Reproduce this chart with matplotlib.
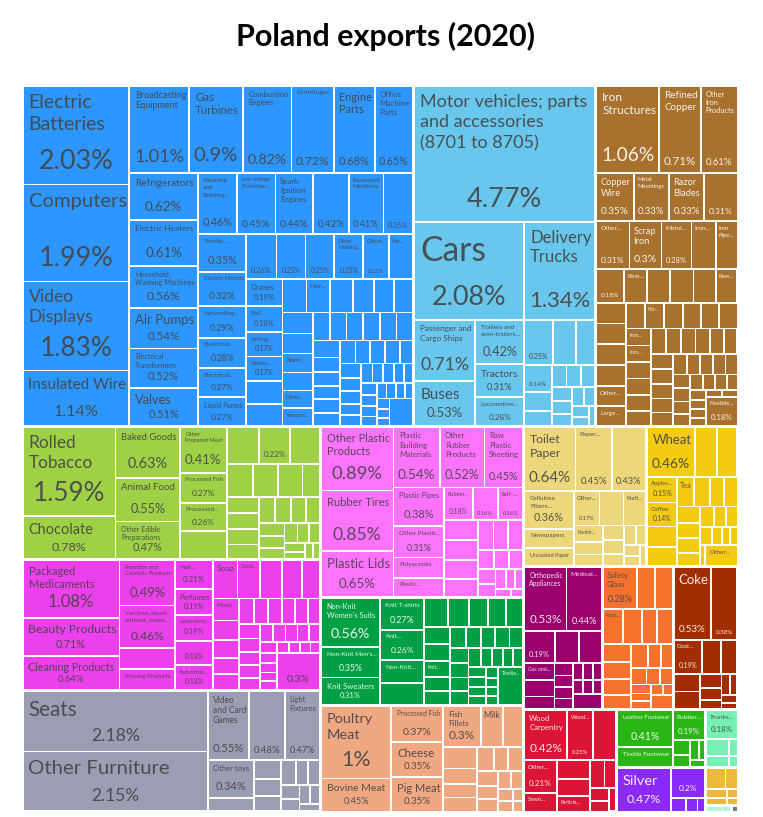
import matplotlib
matplotlib.use("Agg")
import matplotlib.pyplot as plt
from matplotlib.patches import Rectangle
from matplotlib.font_manager import FontProperties

# ---------------- data: share of Poland's exports in 2020 (%) ----------------
machines_labels = [
    "Electric Batteries", "Computers", "Video Displays", "Insulated Wire",
    "Broadcasting Equipment", "Gas Turbines", "Combustion Engines", "Centrifuges", "Engine Parts",
    "Office Machine Parts",
    "Refrigerators", "Electric Heaters", "Household Washing Machines", "Air Pumps",
    "Electrical Transformers", "Valves",
    "Washing and Bottling...", "Low-voltage Protection...", "Spark-Ignition Engines", "",
    "Excavation Machinery", "",
    "Textile...", "Electric Motors", "Harvesting...", "Electrical...", "Electrical...", "Liquid Pumps",
    "", "", "", "Other Heating...", "Other...", "Air...",
    "Cranes", "Ball...", "Lifting...", "Video...", None, None,
    None, "Hair...", None, None, None, None,
    None, None, "Blank...", None, "Other...", "Vacuum...",
] + [None] * 39
machines_values = [
    2.03, 1.99, 1.83, 1.14,
    1.01, 0.9, 0.82, 0.72, 0.68, 0.65,
    0.62, 0.61, 0.56, 0.54, 0.52, 0.51,
    0.46, 0.45, 0.44, 0.42, 0.41, 0.35,
    0.35, 0.32, 0.29, 0.28, 0.27, 0.27,
    0.26, 0.25, 0.25, 0.25, 0.22, 0.21,
    0.19, 0.18, 0.17, 0.17, 0.16, 0.155,
    0.155, 0.15, 0.15, 0.135, 0.13, 0.125,
    0.124, 0.118, 0.112, 0.106, 0.105, 0.105,
    0.09, 0.09, 0.09, 0.09, 0.09, 0.09,
    0.088, 0.075, 0.072, 0.07, 0.07, 0.069,
    0.069, 0.065, 0.065, 0.065, 0.06, 0.058,
    0.055, 0.05, 0.046, 0.045, 0.044, 0.042,
    0.04, 0.038, 0.037, 0.035, 0.034, 0.033,
    0.03, 0.028, 0.027, 0.026, 0.025, 0.024,
    0.022, 0.02, 0.126,
]

transport_labels = [
    "Motor vehicles; parts and accessories (8701 to 8705)", "Cars", "Delivery Trucks",
    "Passenger and Cargo Ships", "Buses", "Trailers and semi-trailers...", "Tractors",
    "Locomotive...", "", None, None, "",
] + [None] * 13
transport_values = [4.77, 2.08, 1.34, 0.71, 0.53, 0.42, 0.31, 0.28, 0.25, 0.2, 0.165, 0.14,
                    0.1, 0.08, 0.063, 0.06, 0.06, 0.055, 0.05, 0.048, 0.045, 0.04, 0.035,
                    0.03, 0.025]

metals_labels = [
    "Iron Structures", "Refined Copper", "Other Iron Products", "Copper Wire", "Metal Mountings",
    "Razor Blades", "", "Other...", "Scrap Iron", "Metal...", "Iron...", "Iron Pipe...",
    "", "Raw...", None, None, None, "Raw...",
    None, None, None, None, "Other...", "Large...",
    None, "Hot-...", None, None, None, None,
    "Iron...", "Iron...", None, None, None, None,
] + [None] * 30 + ["Flexible..."]
metals_values = [
    1.06, 0.71, 0.61, 0.35, 0.33, 0.33, 0.31, 0.31, 0.3, 0.28, 0.23, 0.2,
    0.18, 0.15, 0.15, 0.15, 0.145, 0.14,
    0.12, 0.12, 0.12, 0.12, 0.118, 0.115,
    0.095, 0.093, 0.093, 0.092, 0.09, 0.09,
    0.082, 0.08, 0.08, 0.078, 0.077, 0.075,
    0.074, 0.072, 0.07, 0.07, 0.068, 0.066, 0.065, 0.064, 0.062, 0.06,
    0.058, 0.056, 0.054, 0.052, 0.05, 0.048, 0.046, 0.044, 0.042, 0.04,
    0.038, 0.036, 0.034, 0.032, 0.03, 0.028, 0.026, 0.024, 0.022, 0.02,
    0.18,
]

food_labels = [
    "Rolled Tobacco", "Chocolate", "Baked Goods", "Animal Food", "Other Edible Preparations",
    "Other Prepared Meat", "Processed Fish", "Processed...", None, None, "", None, None, None,
    None, None, None, None, None, None, None, "Hard...",
] + [None] * 12
food_values = [1.59, 0.78, 0.63, 0.55, 0.47, 0.41, 0.27, 0.26, 0.25, 0.23, 0.22, 0.21, 0.17,
               0.16, 0.155, 0.11, 0.1, 0.1, 0.095, 0.09, 0.085, 0.08, 0.075, 0.07, 0.065, 0.06,
               0.055, 0.05, 0.045, 0.04, 0.035, 0.03, 0.025, 0.02]

chem_labels = [
    "Packaged Medicaments", "Beauty Products", "Cleaning Products",
    "Reaction and Catalytic Products", "Vaccines, blood, antisera, toxins...", None,
    "Shaving Products", "Hair...", "Perfumes", "Laboratory...", "", "Industrial...", "Soap",
    "Dental...", "", "", "", "Mixed...", None, None, None,
] + [None] * 26 + [""]
chem_values = [1.08, 0.71, 0.64, 0.49, 0.46, 0.23, 0.22, 0.21, 0.19, 0.19, 0.18, 0.18, 0.18,
               0.17, 0.16, 0.15, 0.13, 0.11, 0.1, 0.09, 0.08,
               0.078, 0.075, 0.07, 0.068, 0.065, 0.062, 0.06, 0.058, 0.055, 0.052, 0.05, 0.048,
               0.046, 0.044, 0.042, 0.04, 0.038, 0.036, 0.034, 0.032, 0.03, 0.028, 0.026, 0.024,
               0.022, 0.02,
               0.3]

misc_labels = ["Seats", "Other Furniture", "Video and Card Games", "", "Light Fixtures",
               "Other toys", ""] + [None] * 11
misc_values = [2.18, 2.15, 0.55, 0.48, 0.47, 0.34, 0.12, 0.1, 0.09, 0.08, 0.07, 0.06, 0.055,
               0.05, 0.045, 0.04, 0.035, 0.03]

plastic_labels = [
    "Other Plastic Products", "Rubber Tires", "Plastic Lids", "Plastic Building Materials",
    "Other Rubber Products", "Raw Plastic Sheeting", "Plastic Pipes", "Other Plastic...",
    "Polyacetals", "Plastic...", "Rubber...", "", "Self-...",
] + [None] * 17
plastic_values = [0.89, 0.85, 0.65, 0.54, 0.52, 0.45, 0.38, 0.31, 0.2, 0.19, 0.18, 0.16, 0.16,
                  0.13, 0.13, 0.12, 0.12, 0.09, 0.085, 0.085, 0.06, 0.055, 0.05, 0.05, 0.045,
                  0.04, 0.035, 0.03, 0.025, 0.02]

textile_labels = [
    "Non-Knit Women's Suits", "Non-Knit Men's...", "Knit Sweaters", "Knit T-shirts", "Knit...",
    "Non-Knit...", None, None, None, None, None, None, None, None, "Knit...",
] + [None] * 24 + ["Textile..."]
textile_values = [0.56, 0.35, 0.31, 0.27, 0.26, 0.2, 0.185, 0.13, 0.12, 0.105, 0.1, 0.095,
                  0.085, 0.085, 0.08, 0.07, 0.065, 0.065, 0.062, 0.06, 0.058, 0.056, 0.055,
                  0.052, 0.05, 0.048, 0.045, 0.042, 0.04, 0.038, 0.036, 0.034, 0.032, 0.03,
                  0.028, 0.026, 0.024, 0.022, 0.02, 0.18]

animal_labels = ["Poultry Meat", "Bovine Meat", "Processed Fish", "Cheese", "Pig Meat",
                 "Fish Fillets", "Milk"] + [None] * 17
animal_values = [1.0, 0.45, 0.37, 0.35, 0.35, 0.3, 0.18, 0.16, 0.14, 0.1, 0.09, 0.09, 0.08,
                 0.07, 0.07, 0.06, 0.055, 0.05, 0.045, 0.04, 0.035, 0.03, 0.025, 0.02]

paper_labels = ["Toilet Paper", "Paper...", "", "Cellulose Fibers...", "Newspapers",
                "Uncoated Paper", "Other...", None, "Kraft...", "Kaolin..."] + [None] * 10
paper_values = [0.64, 0.45, 0.43, 0.36, 0.19, 0.17, 0.17, 0.16, 0.15, 0.095, 0.07, 0.065, 0.06,
                0.055, 0.05, 0.045, 0.04, 0.035, 0.03, 0.025]

veg_labels = ["Wheat", None, "", "Apples...", "Coffee", None, None, "Tea"] + [None] * 15 + ["Other..."]
veg_values = [0.46, 0.21, 0.2, 0.15, 0.14, 0.12, 0.11, 0.1, 0.09, 0.08, 0.08, 0.075, 0.07, 0.065,
              0.06, 0.055, 0.05, 0.045, 0.04, 0.035, 0.03, 0.025, 0.02, 0.13]

instr_labels = ["Orthopedic Appliances", "Medical...", "", None, None, "Gas and..."] + [None] * 13
instr_values = [0.53, 0.44, 0.19, 0.15, 0.14, 0.1, 0.1, 0.075, 0.045, 0.042, 0.04, 0.038, 0.035,
                0.032, 0.03, 0.028, 0.026, 0.024, 0.085]

stone_labels = ["Safety Glass", None, None, "Rock..."] + [None] * 19
stone_values = [0.28, 0.15, 0.14, 0.14, 0.13, 0.105, 0.105, 0.1, 0.095, 0.09, 0.08, 0.08, 0.06,
                0.055, 0.05, 0.045, 0.04, 0.035, 0.03, 0.03, 0.025, 0.02, 0.06]

mineral_labels = ["Coke", "", "Coal..."] + [None] * 11
mineral_values = [0.53, 0.38, 0.19, 0.13, 0.11, 0.09, 0.09, 0.06, 0.05, 0.04, 0.035, 0.03,
                  0.025, 0.02]

wood_labels = ["Wood Carpentry", "Wood...", None, "Other...", "Sawn...", None, None,
               "Particle..."] + [None] * 5
wood_values = [0.42, 0.25, 0.22, 0.21, 0.12, 0.12, 0.11, 0.1, 0.08, 0.06, 0.05, 0.04, 0.03]

footwear_labels = ["Leather Footwear", "Textile Footwear", "Rubber...", None, None, None, None, None]
footwear_values = [0.41, 0.22, 0.19, 0.05, 0.04, 0.035, 0.025, 0.02]

precious_labels = ["Silver", "", None, None, None]
precious_values = [0.47, 0.2, 0.04, 0.03, 0.02]

hides_labels = ["Trunks...", None, None, None, None]
hides_values = [0.18, 0.08, 0.05, 0.03, 0.02]

oils_labels = [None] * 6
oils_values = [0.08, 0.05, 0.04, 0.03, 0.02, 0.015]

arts_labels = [None, None]
arts_values = [0.02, 0.01]

weapons_labels = [None]
weapons_values = [0.008]

DARK = "#444444"
LIGHT = "#ffffff"
sectors = [
    ("Machines", "#2e97ff", DARK, machines_labels, machines_values),
    ("Transportation", "#69c6ec", DARK, transport_labels, transport_values),
    ("Metals", "#a8722e", LIGHT, metals_labels, metals_values),
    ("Foodstuffs", "#9fd147", DARK, food_labels, food_values),
    ("Chemical Products", "#ec40ec", DARK, chem_labels, chem_values),
    ("Miscellaneous", "#9b9eb3", DARK, misc_labels, misc_values),
    ("Plastics and Rubbers", "#fe73fe", DARK, plastic_labels, plastic_values),
    ("Textiles", "#02a044", LIGHT, textile_labels, textile_values),
    ("Animal Products", "#f0a883", DARK, animal_labels, animal_values),
    ("Paper Goods", "#ecd87b", DARK, paper_labels, paper_values),
    ("Vegetable Products", "#f4cb13", DARK, veg_labels, veg_values),
    ("Instruments", "#9a006e", LIGHT, instr_labels, instr_values),
    ("Stone And Glass", "#f4722e", DARK, stone_labels, stone_values),
    ("Mineral Products", "#a22e00", LIGHT, mineral_labels, mineral_values),
    ("Wood Products", "#dc1435", LIGHT, wood_labels, wood_values),
    ("Footwear and Headwear", "#2ab614", LIGHT, footwear_labels, footwear_values),
    ("Precious Metals", "#8b2bfa", LIGHT, precious_labels, precious_values),
    ("Animal Hides", "#76f0b3", DARK, hides_labels, hides_values),
    ("Animal and Vegetable Bi-Products", "#ecb93c", DARK, oils_labels, oils_values),
    ("Arts and Antiques", "#b8f1dc", DARK, arts_labels, arts_values),
    ("Weapons", "#7d7194", DARK, weapons_labels, weapons_values),
]

FONT = "Lato"
W, H = 763, 817
X0, Y0, X1, Y1 = 22, 85, 738, 812
PHI = (1 + 5 ** 0.5) / 2


def squarify(values, x0, y0, x1, y1, ratio=PHI):
    # same row building as d3.treemapSquarify
    rects = [None] * len(values)
    total = float(sum(values))
    n = len(values)
    i0 = 0
    while i0 < n:
        dx, dy = x1 - x0, y1 - y0
        s = values[i0]
        i1 = i0 + 1
        vmin = vmax = s
        alpha = max(dy / dx, dx / dy) / (total * ratio)
        beta = s * s * alpha
        best = max(vmax / beta, beta / vmin)
        while i1 < n:
            v = values[i1]
            s2 = s + v
            nmin, nmax = min(vmin, v), max(vmax, v)
            beta = s2 * s2 * alpha
            r = max(nmax / beta, beta / nmin)
            if r > best:
                break
            s, vmin, vmax, best = s2, nmin, nmax, r
            i1 += 1
        if dx < dy:
            yb = y0 + dy * s / total
            xx = x0
            for i in range(i0, i1):
                ww = dx * values[i] / s
                rects[i] = (xx, y0, xx + ww, yb)
                xx += ww
            y0 = yb
        else:
            xb = x0 + dx * s / total
            yy = y0
            for i in range(i0, i1):
                hh = dy * values[i] / s
                rects[i] = (x0, yy, xb, yy + hh)
                yy += hh
            x0 = xb
        total -= s
        i0 = i1
    return rects


fig = plt.figure(figsize=(W / 100, H / 100), dpi=100)
ax = fig.add_axes([0, 0, 1, 1])
ax.set_xlim(0, W)
ax.set_ylim(H, 0)
ax.axis("off")
renderer = fig.canvas.get_renderer()
_cache = {}


def text_w(s, px, weight="normal"):
    key = (s, round(px, 2), weight)
    if key not in _cache:
        prop = FontProperties(family=FONT, size=px * 0.72, weight=weight)
        _cache[key] = renderer.get_text_width_height_descent(s, prop, ismath=False)[0]
    return _cache[key]


def tokens(name):
    # words, also breakable after a hyphen
    out = []
    for i, word in enumerate(name.split(" ")):
        parts = word.split("-")
        for j, p in enumerate(parts):
            t = p + ("-" if j < len(parts) - 1 else "")
            if t:
                out.append((t, " " if (j == 0 and i > 0) else ""))
    return out


def wrap(toks, px, maxw):
    lines, cur = [], ""
    for t, glue in toks:
        cand = cur + glue + t if cur else t
        if text_w(cand, px) <= maxw:
            cur = cand
        else:
            if text_w(t, px) > maxw:
                return None
            lines.append(cur)
            cur = t
    lines.append(cur)
    return lines


def fit_name(name, w, h, reserve):
    padx = min(5.0, 0.1 * w)
    maxw = w - padx - 1.5
    start = min(0.35 * h, 34.0)
    if name.endswith("..."):
        start = min(start, 6.5)
    toks = tokens(name)
    best = None
    px = start
    while px >= 4.5:
        lines = wrap(toks, px, maxw)
        if lines:
            block = len(lines) * px * 1.15
            top = 2 + 0.28 * px
            if top + block <= h - reserve and block <= 0.47 * h:
                best = (lines, px)
                break
        px -= 0.5
    if best is None:
        return None, None, None, None
    lines, px = best
    if len(lines) > 1:
        # a single line is kept when it is nearly as large
        one = name
        spx = min(start, 0.3 * h)
        while spx >= 0.85 * px and text_w(one, spx) > maxw:
            spx -= 0.5
        if spx >= 0.85 * px and 2 + 0.28 * spx + 1.15 * spx <= h - reserve:
            lines, px = [one], spx
    return lines, px, padx, 2 + 0.28 * px


def draw_label(label, val, x0, y0, x1, y1, tcolor):
    if label is None:
        return
    w, h = x1 - x0, y1 - y0
    share = f"{round(val, 2):g}%"
    spx = None
    if w >= 23 and h >= 22:
        spx = min(0.3 * h, 27.0)
        while spx >= 5.5 and text_w(share, spx) > w - 7:
            spx -= 0.5
        if spx < 5.5:
            spx = None
    reserve = 1.15 * spx + 3 if spx else 0
    if label:
        lines, npx, padx, top = fit_name(label, w, h, reserve)
        if lines:
            for i, ln in enumerate(lines):
                ax.text(x0 + padx, y0 + top + i * npx * 1.15, ln, fontsize=npx * 0.72,
                        family=FONT, color=tcolor, alpha=0.9, ha="left", va="top")
    if spx:
        ax.text((x0 + x1) / 2, y1 - 0.45 * spx - 2, share, fontsize=spx * 0.72, family=FONT,
                color=tcolor, alpha=0.9, ha="center", va="baseline")


totals = [sum(s[4]) for s in sectors]
sector_rects = squarify(totals, X0, Y0, X1, Y1)
for (name, color, tcolor, labels, values), (sx0, sy0, sx1, sy1) in zip(sectors, sector_rects):
    sx0, sy0, sx1, sy1 = sx0 + 0.6, sy0 + 0.6, sx1 - 0.6, sy1 - 0.6
    cells = squarify(values, sx0, sy0, sx1, sy1)
    for lab, val, (cx0, cy0, cx1, cy1) in zip(labels, values, cells):
        ax.add_patch(Rectangle((cx0 + 0.9, cy0 + 0.9), cx1 - cx0 - 1.8, cy1 - cy0 - 1.8,
                               facecolor=color, edgecolor="none"))
        draw_label(lab, val, cx0 + 0.9, cy0 + 0.9, cx1 - 0.9, cy1 - 0.9, tcolor)

ax.text(385, 36, "Poland exports (2020)", fontsize=22, fontweight="bold", family=FONT,
        color="#000000", ha="center", va="center")

fig.savefig("out.png", dpi=100, facecolor="white")
